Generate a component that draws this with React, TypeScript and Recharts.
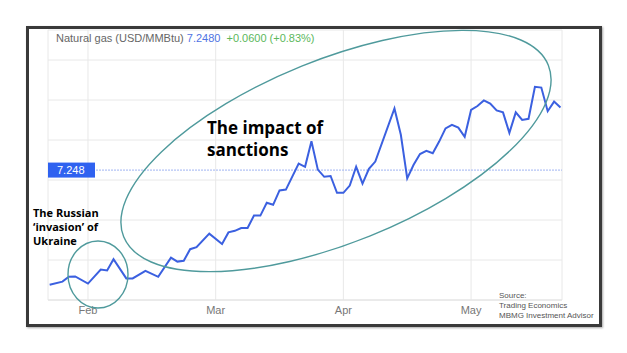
import { LineChart, Line, XAxis, YAxis, CartesianGrid, ReferenceLine } from 'recharts';

// session index counted from 1 Feb (20 sessions per month on this chart)
const sessions = [
  -6, -4, -3, -2, 0, 2, 3, 4, 6, 7, 9, 11, 13, 14, 15, 16, 17, 19, 21, 22, 23, 24, 25,
  26, 27, 28, 29, 30, 31, 33, 34, 35, 36, 37, 38, 39, 40, 41, 42, 43, 44, 45, 48, 49,
  50, 51, 52, 53, 54, 55, 56, 57, 58, 59, 60, 61, 62, 63, 64, 65, 66, 67, 68, 69, 70,
  71, 72, 73, 74,
];

const prices = [
  4.38, 4.46, 4.58, 4.59, 4.41, 4.76, 4.74, 5.02, 4.54, 4.54, 4.73, 4.58, 5.06, 4.96, 4.98,
  5.27, 5.32, 5.66, 5.4, 5.69, 5.73, 5.8, 5.8, 6.11, 6.11, 6.43, 6.38, 6.74, 6.76, 7.41,
  7.33, 7.97, 7.26, 7.08, 7.1, 6.68, 6.68, 6.86, 7.33, 6.91, 7.28, 7.46, 8.79, 8.13, 7.04,
  7.38, 7.65, 7.73, 7.67, 7.96, 8.29, 8.38, 8.31, 8.08, 8.75, 8.85, 8.99, 8.91, 8.74, 8.69,
  8.18, 8.69, 8.5, 8.53, 9.33, 9.31, 8.72, 8.96, 8.81,
];

const monthTicks = [0, 20, 40, 60];
const monthLabels = ['Feb', 'Mar', 'Apr', 'May'];
const priceTicks = [4, 5, 6, 7, 8, 9, 10];
const lastPrice = 7.248;

const data = sessions.map((s, i) => ({ s, price: prices[i] }));

function PriceTag({ viewBox }: any) {
  const { x, y } = viewBox;
  return (
    <g>
      <rect x={x} y={y - 7.5} width={47} height={15} fill="#2f62f0" />
      <text x={x + 9} y={y + 4} fill="#fff" fontSize={11} fontFamily="Liberation Sans, Arial">
        {lastPrice.toFixed(3)}
      </text>
    </g>
  );
}

export default function App() {
  return (
    <div style={{ position: 'absolute', left: 0, top: 0, width: 627, height: 353, background: '#fff' }}>
      <div style={{ position: 'absolute', left: 0, top: 0 }}>
        <LineChart width={627} height={353} data={data} margin={{ top: 30, left: 48, right: 65, bottom: 33 }}>
          <CartesianGrid stroke="#e8e8e8" />
          <XAxis
            dataKey="s"
            type="number"
            domain={[-6.26, 74.24]}
            ticks={monthTicks}
            tickFormatter={(v: number) => monthLabels[monthTicks.indexOf(v)]}
            height={20}
            tickSize={0}
            tickMargin={6}
            axisLine={{ stroke: '#e2e2e2' }}
            tick={{ fill: '#777', fontSize: 11, fontFamily: 'Liberation Sans, Arial' }}
          />
          <YAxis hide domain={[4, 10.75]} ticks={priceTicks} />
          <ReferenceLine y={lastPrice} stroke="#9fb3f2" strokeDasharray="2 1" label={<PriceTag />} />
          <Line
            type="linear"
            dataKey="price"
            stroke="#3b60e0"
            strokeWidth={2}
            dot={false}
            isAnimationActive={false}
          />
        </LineChart>
      </div>
      <div
        style={{
          position: 'absolute',
          left: 56,
          top: 32,
          fontFamily: 'Liberation Sans, Arial',
          fontSize: 11,
          color: '#666',
          whiteSpace: 'nowrap',
        }}
      >
        Natural gas (USD/MMBtu) <span style={{ color: '#4f73e3' }}>7.2480</span>
        <span style={{ color: '#5cb85c', marginLeft: 6 }}>+0.0600 (+0.83%)</span>
      </div>
      <div
        style={{
          position: 'absolute',
          left: 207,
          top: 117,
          fontFamily: '"Open Sans", sans-serif',
          fontWeight: 700,
          fontSize: 17,
          lineHeight: '22px',
          color: '#000',
          whiteSpace: 'nowrap',
        }}
      >
        The impact of
        <br />
        sanctions
      </div>
      <div
        style={{
          position: 'absolute',
          left: 33,
          top: 206,
          fontFamily: '"Open Sans", sans-serif',
          fontWeight: 700,
          fontSize: 11,
          lineHeight: '14px',
          color: '#000',
          whiteSpace: 'nowrap',
        }}
      >
        The Russian
        <br />
        ‘invasion’ of
        <br />
        Ukraine
      </div>
      <div
        style={{
          position: 'absolute',
          left: 499,
          top: 291,
          fontFamily: 'Liberation Sans, Arial',
          fontSize: 8,
          lineHeight: '9.8px',
          color: '#555',
          whiteSpace: 'nowrap',
        }}
      >
        Source:
        <br />
        Trading Economics
        <br />
        MBMG Investment Advisor
      </div>
      <svg width={627} height={353} style={{ position: 'absolute', left: 0, top: 0, pointerEvents: 'none' }}>
        <ellipse cx={98} cy={274.5} rx={30} ry={33.5} fill="none" stroke="#4f9a9c" strokeWidth={1.4} />
        <ellipse
          cx={336}
          cy={151}
          rx={229}
          ry={91.5}
          transform="rotate(-22 336 151)"
          fill="none"
          stroke="#4f9a9c"
          strokeWidth={1.4}
        />
      </svg>
      <div
        style={{
          position: 'absolute',
          left: 26,
          top: 26,
          width: 576,
          height: 301,
          boxSizing: 'border-box',
          border: '3px solid #3a3a3a',
          boxShadow: '1px 1px 2px rgba(0,0,0,0.35)',
        }}
      />
    </div>
  );
}
